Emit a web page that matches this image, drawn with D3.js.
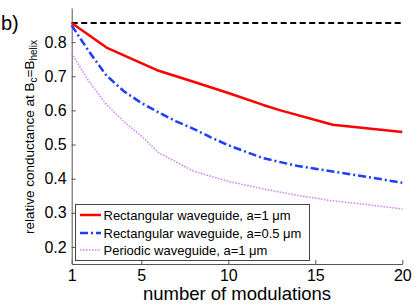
<!DOCTYPE html>
<html><head><meta charset="utf-8">
<script src="https://cdn.jsdelivr.net/npm/d3@7/dist/d3.min.js"></script>
<style>body{margin:0;background:#fff;}svg{display:block;font-family:"Liberation Sans",Arial,sans-serif;}</style>
</head><body>
<script>
const xTicks = [1, 5, 10, 15, 20];
const yTicks = [0.2, 0.3, 0.4, 0.5, 0.6, 0.7, 0.8];
const helixX = [1, 20];
const helixY = [0.856, 0.856];
const rectX1 = [1, 3, 6, 8, 10, 12, 13, 16, 20];
const rectY1 = [0.856, 0.784, 0.716, 0.684, 0.651, 0.616, 0.600, 0.558, 0.537];
const rectX05 = [1, 2, 3, 4, 5, 6, 7, 8, 9, 10, 12, 14, 16, 18, 20];
const rectY05 = [0.849, 0.772, 0.702, 0.656, 0.622, 0.594, 0.568, 0.546, 0.521, 0.498, 0.460, 0.437, 0.421, 0.405, 0.388];
const perX = [1, 2, 3, 4, 5, 6, 8, 10, 12, 14, 16, 18, 20];
const perY = [0.767, 0.684, 0.617, 0.567, 0.525, 0.476, 0.422, 0.392, 0.370, 0.351, 0.335, 0.324, 0.311];
const legendLabels = ["Rectangular waveguide, a=1 \u03bcm", "Rectangular waveguide, a=0.5 \u03bcm", "Periodic waveguide, a=1 \u03bcm"];

const W = 415, H = 306;
const svg = d3.select("body").append("svg").attr("width", W).attr("height", H);
const x = d3.scaleLinear().domain([1, 20]).range([71.7, 402.3]);
const y = d3.scaleLinear().domain([0.15, 0.9]).range([264, 8]);
const axisCol = "#555";

// axes
const gx = svg.append("g").attr("transform", `translate(0,${y(0.15)})`)
  .call(d3.axisBottom(x).tickValues(xTicks).tickFormat(d3.format("d")).tickSizeInner(-4).tickSizeOuter(0).tickPadding(6));
const gy = svg.append("g").attr("transform", `translate(${x(1)},0)`)
  .call(d3.axisLeft(y).tickValues(yTicks).tickFormat(d3.format(".1f")).tickSizeInner(-4).tickSizeOuter(0).tickPadding(5));
[gx, gy].forEach(g => {
  g.select(".domain").attr("stroke", axisCol).attr("stroke-width", 1);
  g.selectAll(".tick line").attr("stroke", axisCol);
  g.selectAll(".tick text").attr("fill", "#000").attr("font-size", 16).attr("font-family", "Liberation Sans, Arial, sans-serif");
});

const line = d3.line().x(d => x(d[0])).y(d => y(d[1]));
const zip = (a, b) => a.map((v, i) => [v, b[i]]);
const series = [
  {xs: helixX, ys: helixY, color: "#000", w: 2, dash: "6,3.5"},
  {xs: perX, ys: perY, color: "#d27cff", w: 1.5, dash: "1.5,1.5"},
  {xs: rectX05, ys: rectY05, color: "#1f3dff", w: 2.5, dash: "8,3,2,3"},
  {xs: rectX1, ys: rectY1, color: "#ff0000", w: 2.5, dash: null}
];
series.forEach(s => {
  svg.append("path").datum(zip(s.xs, s.ys)).attr("d", line)
    .attr("fill", "none").attr("stroke", s.color).attr("stroke-width", s.w)
    .attr("stroke-dasharray", s.dash).attr("stroke-linejoin", "round");
});

// legend
const lg = svg.append("g");
lg.append("rect").attr("x", 75.5).attr("y", 204.5).attr("width", 234).attr("height", 56)
  .attr("fill", "#fff").attr("stroke", "#444").attr("stroke-width", 1);
const legStyles = [series[3], series[2], series[1]];
const rowY = [215, 233, 250];
legendLabels.forEach((t, i) => {
  const s = legStyles[i];
  lg.append("line").attr("x1", 80).attr("x2", 101).attr("y1", rowY[i]).attr("y2", rowY[i])
    .attr("stroke", s.color).attr("stroke-width", s.w).attr("stroke-dasharray", s.dash);
  lg.append("text").attr("x", 103.5).attr("y", rowY[i]).attr("dy", "0.35em")
    .attr("font-size", 13).text(t);
});

// axis labels
svg.append("text").attr("x", x(10.5)).attr("y", 300).attr("text-anchor", "middle")
  .attr("font-size", 18.5).text("number of modulations");
const yl = svg.append("text").attr("transform", "translate(33.5,137) rotate(-90)")
  .attr("text-anchor", "middle").attr("font-size", 13.5);
yl.append("tspan").text("relative conductance at B");
yl.append("tspan").attr("font-size", 10).attr("dy", 3).text("c");
yl.append("tspan").attr("dy", -3).text("=B");
yl.append("tspan").attr("font-size", 10).attr("dy", 3).text("helix");

svg.append("text").attr("x", 1).attr("y", 30).attr("font-size", 20).text("b)");
</script>
</body></html>
